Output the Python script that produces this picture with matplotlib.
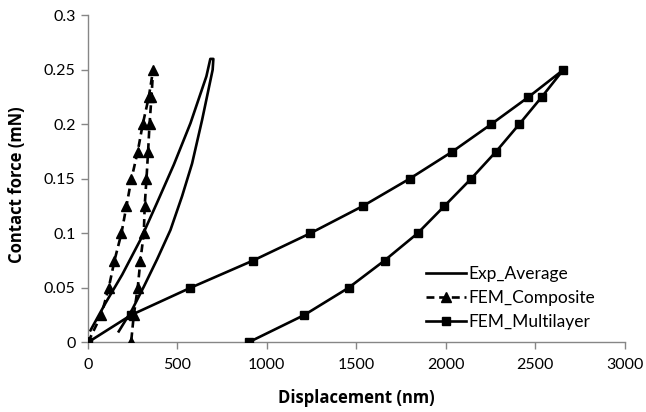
import matplotlib
matplotlib.use("Agg")
import matplotlib.pyplot as plt

# Exp_Average (loading then unloading)
exp_x = [14, 98, 191, 293, 386, 480, 573, 662, 684, 701, 697, 638, 582, 526, 461, 386, 312, 247, 172]
exp_y = [0.011, 0.036, 0.062, 0.094, 0.128, 0.163, 0.201, 0.244, 0.26, 0.26, 0.25, 0.204, 0.164, 0.134, 0.103, 0.076, 0.051, 0.030, 0.010]

# FEM_Composite
comp_x = [0, 74, 116, 148, 187, 215, 243, 278, 306, 340, 364, 355, 344, 336, 327, 317, 312, 293, 278, 256, 241]
comp_y = [0, 0.025, 0.05, 0.075, 0.1, 0.125, 0.15, 0.175, 0.2, 0.225, 0.25, 0.225, 0.2, 0.175, 0.15, 0.125, 0.1, 0.075, 0.05, 0.025, 0]

# FEM_Multilayer
multi_x = [0, 241, 573, 923, 1243, 1537, 1798, 2038, 2254, 2463, 2658, 2537, 2411, 2282, 2142, 1993, 1843, 1658, 1457, 1209, 898]
multi_y = [0, 0.025, 0.05, 0.075, 0.1, 0.125, 0.15, 0.175, 0.2, 0.225, 0.25, 0.225, 0.2, 0.175, 0.15, 0.125, 0.1, 0.075, 0.05, 0.025, 0]

x_ticks = [0, 500, 1000, 1500, 2000, 2500, 3000]
y_ticks = [0, 0.05, 0.1, 0.15, 0.2, 0.25, 0.3]
y_tick_labels = ["0", "0.05", "0.1", "0.15", "0.2", "0.25", "0.3"]

plt.rcParams['font.family'] = ['Lato', 'DejaVu Sans']

W, H = 646, 412
x0, x1, y0, y1 = 88.0, 624.5, 342.3, 15.3
fig = plt.figure(figsize=(W/100, H/100), dpi=100)
ax = fig.add_axes([x0/W, 1-y0/H, (x1-x0)/W, (y0-y1)/H])

ax.plot(exp_x, exp_y, color='black', lw=1.9, solid_joinstyle='round', label='Exp_Average', zorder=2)
ax.plot(comp_x, comp_y, color='black', lw=1.9, ls=(0, (3, 1.8)), marker='^', markersize=7,
        label='FEM_Composite', zorder=3)
ax.plot(multi_x, multi_y, color='black', lw=1.9, marker='s', markersize=6,
        label='FEM_Multilayer', zorder=4)

ax.set_xlim(0, 3000)
ax.set_ylim(0, 0.3)
ax.set_xticks(x_ticks)
ax.set_yticks(y_ticks)
ax.set_yticklabels(y_tick_labels)
for s in ['top', 'right']:
    ax.spines[s].set_visible(False)
for s in ['left', 'bottom']:
    ax.spines[s].set_color('#868686')
    ax.spines[s].set_linewidth(1.0)
ax.tick_params(axis='both', colors='#868686', labelcolor='black', labelsize=11.5, length=5, width=1.0)
ax.tick_params(axis='x', pad=6)
ax.tick_params(axis='y', pad=4)

lab_font = dict(family=['Open Sans', 'DejaVu Sans'], fontsize=12, fontweight='bold')
ax.set_xlabel('Displacement (nm)', va='center', **lab_font)
ax.set_ylabel('Contact force (mN)', va='center', **lab_font)
ax.xaxis.set_label_coords((356 - x0)/(x1 - x0), (y0 - 398)/(y0 - y1))
ax.yaxis.set_label_coords((17 - x0)/(x1 - x0), (y0 - 185)/(y0 - y1))

leg = ax.legend(loc='upper left', bbox_to_anchor=(426/W, 1 - 266/H), bbox_transform=fig.transFigure,
                frameon=False, fontsize=12.5, handlelength=2.3, handletextpad=0.15,
                labelspacing=0.45, borderaxespad=0, borderpad=0)

fig.savefig('out.png', dpi=100)
